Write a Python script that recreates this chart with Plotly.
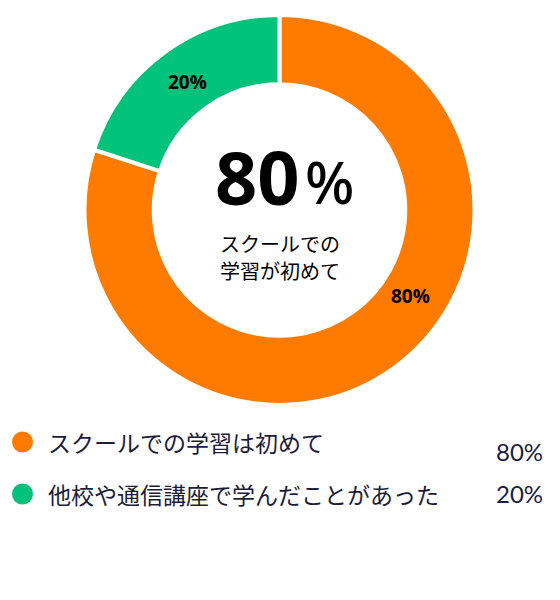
import plotly.graph_objects as go

labels = ["スクールでの学習は初めて", "他校や通信講座で学んだことがあった"]
values = [80, 20]
colors = ["#FF7B00", "#00C27A"]
center_number = "80"
center_unit = "%"
center_caption = ["スクールでの", "学習が初めて"]

W, H = 560, 600

def px(y):
    return 1 - y / H

fig = go.Figure()
fig.add_trace(go.Pie(
    labels=labels,
    values=values,
    hole=0.645,
    sort=False,
    direction="clockwise",
    rotation=0,
    marker=dict(colors=colors, line=dict(color="white", width=4)),
    textinfo="none",
    domain=dict(x=[84.5 / W, 474.5 / W], y=[px(406), px(14)]),
    showlegend=False,
    hoverinfo="label+percent",
))

total = sum(values)
ann = []
# slice labels
slice_label_pos = [(410, 296), (188, 82)]
for (lx, ly), val in zip(slice_label_pos, values):
    ann.append(dict(text=f"<b>{round(100 * val / total)}%</b>", x=lx / W, y=px(ly), xref="paper", yref="paper",
                    showarrow=False, font=dict(family="Open Sans", size=19, color="black"),
                    xanchor="center", yanchor="middle"))

ann.append(dict(text=f"<b>{center_number}</b>", x=257.5 / W, y=px(176), xref="paper", yref="paper",
                showarrow=False, font=dict(family="Noto Sans", size=74, color="black"),
                xanchor="center", yanchor="middle"))
ann.append(dict(text=center_unit, x=329 / W, y=px(181), xref="paper", yref="paper",
                showarrow=False, font=dict(family="Noto Sans", size=58, color="black", weight=500),
                xanchor="center", yanchor="middle"))
for i, line in enumerate(center_caption):
    ann.append(dict(text=line, x=280 / W, y=px(243 + 27 * i), xref="paper", yref="paper",
                    showarrow=False, font=dict(family="Noto Sans CJK JP", size=20, color="black"),
                    xanchor="center", yanchor="middle"))

shapes = []
row_y = [442, 494]
pct_y = [451, 493]
for i, (lab, val, col) in enumerate(zip(labels, values, colors)):
    cy = row_y[i]
    shapes.append(dict(type="circle", xref="paper", yref="paper",
                       x0=12 / W, x1=33 / W, y0=px(cy + 10.5), y1=px(cy - 10.5),
                       fillcolor=col, line=dict(width=0)))
    ann.append(dict(text=lab, x=46 / W, y=px(cy), xref="paper", yref="paper",
                    showarrow=False, font=dict(family="Noto Sans CJK JP", size=23, color="#1b1d3a"),
                    xanchor="left", yanchor="middle"))
    ann.append(dict(text=f"{round(100 * val / total)}%", x=545 / W, y=px(pct_y[i]), xref="paper", yref="paper",
                    showarrow=False, font=dict(family="Lato", size=24, color="#1b1d45"),
                    xanchor="right", yanchor="middle"))

fig.update_layout(
    width=W, height=H,
    margin=dict(l=0, r=0, t=0, b=0),
    paper_bgcolor="white",
    plot_bgcolor="white",
    annotations=ann,
    shapes=shapes,
)

fig.write_html("out.html")
